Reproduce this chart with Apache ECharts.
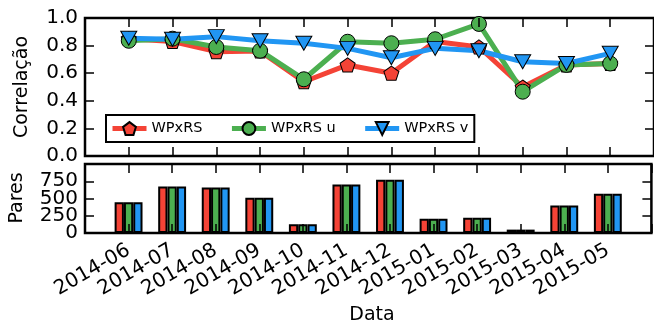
<!DOCTYPE html>
<html>
<head>
<meta charset="utf-8">
<script src="https://cdn.jsdelivr.net/npm/echarts@6/dist/echarts.min.js"></script>
<style>
  html, body { margin: 0; padding: 0; background: #fff; }
  #chart { width: 654px; height: 326px; }
</style>
</head>
<body>
<div id="chart"></div>
<script>
// Monthly correlation of WP against RS (full, u and v components) and pair counts
const months = ['2014-06','2014-07','2014-08','2014-09','2014-10','2014-11',
                '2014-12','2015-01','2015-02','2015-03','2015-04','2015-05'];
const corrWPxRS  = [0.85, 0.83, 0.756, 0.76, 0.538, 0.66, 0.60, 0.83, 0.79, 0.50, 0.66, 0.67];
const corrWPxRSu = [0.835, 0.85, 0.79, 0.763, 0.556, 0.828, 0.817, 0.846, 0.957, 0.466, 0.66, 0.67];
const corrWPxRSv = [0.853, 0.846, 0.865, 0.835, 0.817, 0.78, 0.712, 0.78, 0.763, 0.683, 0.67, 0.744];
const pairs      = [447, 674, 660, 511, 126, 703, 771, 208, 222, 49, 400, 569];
const corrTicks  = [0, 0.2, 0.4, 0.6, 0.8, 1.0];
const pairTicks  = [0, 250, 500, 750];

const RED = '#F44336', GREEN = '#4CAF50', BLUE = '#2196F3';
const FONT = 'DejaVu Sans';
const pentagon = 'path://M50 0 L97.55 34.55 L79.39 90.45 L20.61 90.45 L2.45 34.55 Z';

const xy = arr => arr.map((v, i) => [i, v]);

const chart = echarts.init(document.getElementById('chart'), null, { renderer: 'canvas' });

const tick = { show: true, inside: true, length: 9, lineStyle: { color: '#000', width: 1.5 } };
const baseX = (grid, pos, labels) => ({
  type: 'value', gridIndex: grid, position: pos, min: -1, max: 12, interval: 1, z: 10,
  axisLine: { show: false, onZero: false }, splitLine: { show: false }, axisTick: tick,
  axisLabel: labels ? {
    show: true, rotate: 30, margin: 16, color: '#000', fontFamily: FONT, fontSize: 20,
    formatter: v => months[v] || ''
  } : { show: false }
});
const baseY = (grid, pos, min, max, step, labelFn, showTicks) => ({
  type: 'value', gridIndex: grid, position: pos, min: min, max: max, interval: step, z: 10,
  axisLine: { show: false, onZero: false }, splitLine: { show: false },
  axisTick: showTicks === false ? { show: false } : tick,
  axisLabel: labelFn ? {
    show: true, margin: 7, color: '#000', fontFamily: FONT, fontSize: 20, formatter: labelFn,
    showMinLabel: true, showMaxLabel: true
  } : { show: false }
});

const lineSeries = (name, data, color, symbol, size, rotate) => ({
  type: 'line', name: name, xAxisIndex: 0, yAxisIndex: 0, data: xy(data),
  symbol: symbol, symbolSize: size, symbolRotate: rotate || 0,
  lineStyle: { color: color, width: 5 },
  itemStyle: { color: color, borderColor: '#000', borderWidth: 1 },
  emphasis: { disabled: true }, animation: false
});
const barSeries = (name, color) => ({
  type: 'bar', name: name, xAxisIndex: 2, yAxisIndex: 2, data: xy(pairs),
  barWidth: 9.3, barGap: '0%',
  itemStyle: { color: color, borderColor: '#000', borderWidth: 2 },
  emphasis: { disabled: true }, animation: false
});
const legendItem = (name, color) => ({
  name: name, lineStyle: { color: color, width: 5 }
});

// The pair-count labels are split over two overlaid left axes (0/500 and 250/750)
// so the tightly spaced tick labels are all kept.
const pairLabelsEven = v => (v === pairTicks[0] || v === pairTicks[2]) ? String(v) : '';
const pairLabelsOdd  = v => (v === pairTicks[1] || v === pairTicks[3]) ? String(v) : '';

chart.setOption({
  animation: false,
  grid: [
    { left: 85, right: -1, top: 18, height: 138, show: true, borderColor: '#000', borderWidth: 2.5, backgroundColor: 'transparent' },
    { left: 85, right: -1, top: 164, height: 69, show: true, borderColor: '#000', borderWidth: 2.5, backgroundColor: 'transparent' }
  ],
  xAxis: [
    baseX(0, 'bottom', false),
    baseX(0, 'top', false),
    baseX(1, 'bottom', true),
    baseX(1, 'top', false)
  ],
  yAxis: [
    baseY(0, 'left', corrTicks[0], corrTicks[corrTicks.length - 1], 0.2, v => v.toFixed(1)),
    baseY(0, 'right', 0, 1, 0.2, null),
    baseY(1, 'left', pairTicks[0], 1000, 250, pairLabelsEven),
    baseY(1, 'right', 0, 1000, 250, null),
    Object.assign(baseY(1, 'left', pairTicks[0], 1000, 250, pairLabelsOdd, false), { offset: 0 })
  ],
  legend: {
    data: [legendItem('WPxRS', RED), legendItem('WPxRS u', GREEN), legendItem('WPxRS v', BLUE)],
    left: 106, top: 115, orient: 'horizontal',
    padding: [6, 6, 6, 4], itemGap: 27, itemWidth: 34, itemHeight: 16,
    borderColor: '#000', borderWidth: 2, borderRadius: 0, backgroundColor: '#fff',
    textStyle: { color: '#000', fontFamily: FONT, fontSize: 14.5 },
    selectedMode: false
  },
  series: [
    barSeries('WPxRS pares', RED),
    barSeries('WPxRS u pares', GREEN),
    barSeries('WPxRS v pares', BLUE),
    lineSeries('WPxRS', corrWPxRS, RED, pentagon, [15, 14]),
    lineSeries('WPxRS u', corrWPxRSu, GREEN, 'circle', 15),
    lineSeries('WPxRS v', corrWPxRSv, BLUE, 'triangle', [16, 14], 180)
  ],
  graphic: [
    { type: 'text', x: 22, y: 87, rotation: Math.PI / 2,
      style: { text: 'Correlação', font: '19px "DejaVu Sans"', fill: '#000', align: 'center', verticalAlign: 'middle' } },
    { type: 'text', x: 17, y: 198, rotation: Math.PI / 2,
      style: { text: 'Pares', font: '19px "DejaVu Sans"', fill: '#000', align: 'center', verticalAlign: 'middle' } },
    { type: 'text', x: 372, y: 315,
      style: { text: 'Data', font: '19px "DejaVu Sans"', fill: '#000', align: 'center', verticalAlign: 'middle' } }
  ]
});
</script>
</body>
</html>
